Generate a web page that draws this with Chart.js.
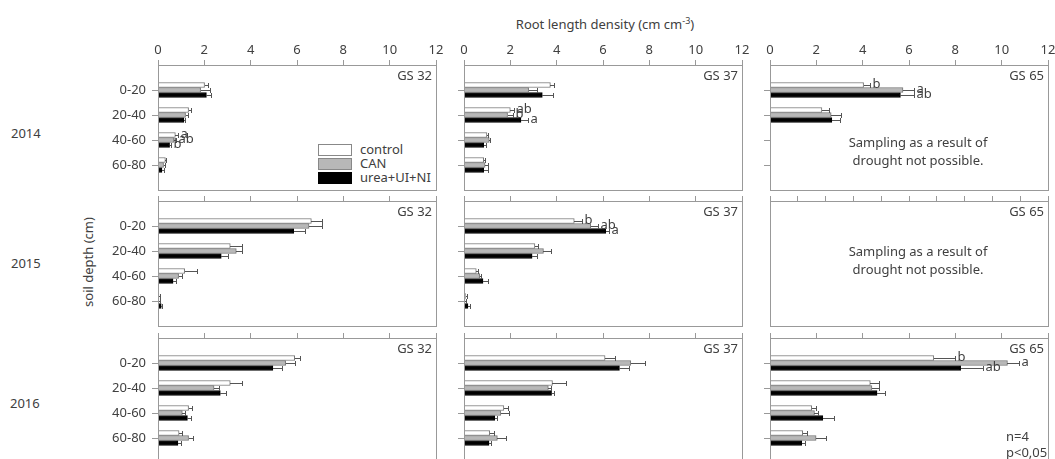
<!DOCTYPE html>
<html>
<head>
<meta charset="utf-8">
<script src="https://cdn.jsdelivr.net/npm/chart.js@4.4.1/dist/chart.umd.min.js"></script>
<style>
body { margin: 0; background: #fff; }
#page { position: relative; width: 1055px; height: 459px; overflow: hidden; font-family: 'Noto Sans', sans-serif; color: #404040; }
#page canvas { position: absolute; }
.lbl { position: absolute; font-size: 13px; white-space: nowrap; line-height: 18px; }
.box { position: absolute; width: 32px; height: 10px; border: 1px solid #888; }
sup { font-size: 9px; line-height: 0; }
</style>
</head>
<body>
<div id="page">
  <div class="lbl" style="left:605px; top:15px; transform:translateX(-50%)">Root length density (cm cm<sup>-3</sup>)</div>
  <div class="lbl" style="left:11px; top:124px">2014</div>
  <div class="lbl" style="left:11px; top:254px">2015</div>
  <div class="lbl" style="left:10px; top:394px">2016</div>
  <div class="lbl" style="left:88px; top:262px; transform:translate(-50%,-50%) rotate(-90deg)">soil depth (cm)</div>
  <div class="box" style="left:318px; top:144px; background:#fff"></div>
  <div class="box" style="left:318px; top:158px; background:#b8b8b8"></div>
  <div class="box" style="left:318px; top:172px; background:#000; border-color:#000"></div>
  <div class="lbl" id="leg0" style="left:360px; top:140px"></div>
  <div class="lbl" id="leg1" style="left:360px; top:154px"></div>
  <div class="lbl" id="leg2" style="left:360px; top:168px"></div>
</div>
<script>
const depths = ['0-20', '20-40', '40-60', '60-80']
const treatments = ['control', 'CAN', 'urea+UI+NI']

// rows: control, CAN, urea+UI+NI ; columns: depths
const mean2014gs32 = [[2.01, 1.32, 0.75, 0.32], [1.84, 1.19, 0.69, 0.24], [2.09, 1.12, 0.50, 0.17]]
const err2014gs32  = [[0.15, 0.12, 0.11, 0.04], [0.42, 0.10, 0.07, 0.08], [0.18, 0.06, 0.08, 0.07]]
const let2014gs32  = [['', '', 'a', ''], ['', '', 'ab', ''], ['', '', 'b', '']]

const mean2014gs37 = [[3.73, 2.00, 0.99, 0.85], [2.79, 1.88, 1.09, 0.91], [3.38, 2.46, 0.85, 0.85]]
const err2014gs37  = [[0.17, 0.17, 0.06, 0.07], [0.35, 0.22, 0.05, 0.11], [0.45, 0.29, 0.09, 0.17]]
const let2014gs37  = [['', 'ab', '', ''], ['', 'b', '', ''], ['', 'a', '', '']]

const mean2014gs65 = [[4.04, 2.24], [5.74, 2.64], [5.63, 2.67]]
const err2014gs65  = [[0.29, 0.31], [0.46, 0.42], [0.60, 0.33]]
const let2014gs65  = [['b', ''], ['a', ''], ['ab', '']]

const mean2015gs32 = [[6.62, 3.12, 1.15, 0.04], [6.52, 3.38, 0.89, 0.04], [5.86, 2.73, 0.65, 0.14]]
const err2015gs32  = [[0.47, 0.51, 0.55, 0.03], [0.57, 0.25, 0.15, 0.03], [0.47, 0.29, 0.11, 0.05]]

const mean2015gs37 = [[4.76, 3.06, 0.53, 0.07], [5.47, 3.43, 0.68, 0.04], [6.12, 2.94, 0.82, 0.17]]
const err2015gs37  = [[0.32, 0.14, 0.07, 0.06], [0.33, 0.32, 0.07, 0.03], [0.14, 0.19, 0.22, 0.08]]
const let2015gs37  = [['b', '', '', ''], ['ab', '', '', ''], ['a', '', '', '']]

const mean2016gs32 = [[5.90, 3.12, 1.32, 0.91], [5.51, 2.42, 1.05, 1.32], [4.96, 2.69, 1.27, 0.86]]
const err2016gs32  = [[0.22, 0.51, 0.15, 0.14], [0.39, 0.20, 0.13, 0.19], [0.41, 0.23, 0.17, 0.15]]

const mean2016gs37 = [[6.09, 3.82, 1.72, 1.11], [7.20, 3.64, 1.59, 1.44], [6.71, 3.78, 1.33, 1.08]]
const err2016gs37  = [[0.43, 0.58, 0.18, 0.19], [0.62, 0.11, 0.36, 0.36], [0.43, 0.12, 0.10, 0.10]]

const mean2016gs65 = [[7.07, 4.33, 1.80, 1.41], [10.25, 4.40, 1.92, 1.99], [8.23, 4.62, 2.28, 1.37]]
const err2016gs65  = [[0.90, 0.36, 0.18, 0.18], [0.50, 0.29, 0.17, 0.43], [0.98, 0.33, 0.49, 0.15]]
const let2016gs65  = [['b', '', '', ''], ['a', '', '', ''], ['ab', '', '', '']]

const noteText = ['Sampling as a result of', 'drought not possible.']
const statsText = ['n=4', 'p<0,05']

const fills = ['#ffffff', '#b8b8b8', '#000000']
const borders = ['#777777', '#777777', '#000000']
const frameColor = '#999999'
const textColor = '#404040'
const font13 = '13px "Noto Sans"'

treatments.forEach((t, i) => document.getElementById('leg' + i).textContent = t)

const colLeft = [158, 464, 770]
const rowTop = [65, 201, 338]
const panelW = 278, panelH = 125
// padB is big enough that chart.js does not shrink the area for the last y label
const axisW = 60, axisH = 30, padR = 12, padB = 18

const panels = [
  {row: 0, col: 0, gs: 'GS 32', mean: mean2014gs32, err: err2014gs32, letters: let2014gs32},
  {row: 0, col: 1, gs: 'GS 37', mean: mean2014gs37, err: err2014gs37, letters: let2014gs37},
  {row: 0, col: 2, gs: 'GS 65', mean: mean2014gs65, err: err2014gs65, letters: let2014gs65, note: noteText, noteY: 78},
  {row: 1, col: 0, gs: 'GS 32', mean: mean2015gs32, err: err2015gs32},
  {row: 1, col: 1, gs: 'GS 37', mean: mean2015gs37, err: err2015gs37, letters: let2015gs37},
  {row: 1, col: 2, gs: 'GS 65', note: noteText, noteY: 51, xStep: 1.2, noYTicks: true},
  {row: 2, col: 0, gs: 'GS 32', mean: mean2016gs32, err: err2016gs32},
  {row: 2, col: 1, gs: 'GS 37', mean: mean2016gs37, err: err2016gs37},
  {row: 2, col: 2, gs: 'GS 65', mean: mean2016gs65, err: err2016gs65, letters: let2016gs65, stats: statsText}
]

const errorBars = {
  id: 'errorBars',
  afterDatasetsDraw(chart) {
    const ctx = chart.ctx
    const xs = chart.scales.x
    ctx.save()
    chart.data.datasets.forEach((ds, di) => {
      const meta = chart.getDatasetMeta(di)
      meta.data.forEach((bar, i) => {
        const pt = ds.data[i]
        const x0 = Math.round(bar.x)
        const x1 = Math.round(xs.getPixelForValue(pt.x + pt.err)) + 0.5
        const y = Math.round(bar.y) + 0.5
        ctx.strokeStyle = '#555'
        ctx.lineWidth = 1
        ctx.beginPath()
        ctx.moveTo(x0, y)
        ctx.lineTo(x1, y)
        ctx.moveTo(x1, y - 2.5)
        ctx.lineTo(x1, y + 2.5)
        ctx.stroke()
        if (pt.letter) {
          ctx.fillStyle = textColor
          ctx.font = font13
          ctx.textAlign = 'left'
          ctx.textBaseline = 'middle'
          ctx.fillText(pt.letter, x1 + 2, y - 1)
        }
      })
    })
    ctx.restore()
  }
}

const panelText = {
  id: 'panelText',
  afterDraw(chart, args, opts) {
    const ctx = chart.ctx
    const a = chart.chartArea
    ctx.save()
    ctx.strokeStyle = frameColor
    ctx.lineWidth = 1
    ctx.strokeRect(Math.round(a.left) + 0.5, Math.round(a.top) + 0.5, Math.round(a.right - a.left), Math.round(a.bottom - a.top))
    ctx.fillStyle = textColor
    ctx.font = font13
    ctx.textBaseline = 'middle'
    ctx.textAlign = 'right'
    ctx.fillText(opts.gs, a.right - 4, a.top + 11)
    if (opts.note) {
      ctx.textAlign = 'center'
      opts.note.forEach((t, i) => ctx.fillText(t, a.left + 148, a.top + opts.noteY + i * 18))
    }
    if (opts.stats) {
      ctx.textAlign = 'left'
      opts.stats.forEach((t, i) => ctx.fillText(t, a.right - 42, a.top + 99 + i * 16))
    }
    ctx.restore()
  }
}

const page = document.getElementById('page')

for (let p of panels) {
  let canvas = document.createElement('canvas')
  let w = axisW + panelW + padR, h = axisH + panelH + padB
  canvas.width = w
  canvas.height = h
  canvas.style.left = (colLeft[p.col] - axisW) + 'px'
  canvas.style.top = (rowTop[p.row] - axisH) + 'px'
  canvas.style.width = w + 'px'
  canvas.style.height = h + 'px'
  page.appendChild(canvas)

  let datasets = []
  if (p.mean) {
    datasets = treatments.map((t, ti) => ({
      label: t,
      data: p.mean[ti].map((v, di) => ({
        x: v, y: di + 1, err: p.err[ti][di],
        letter: p.letters ? p.letters[ti][di] : ''
      })),
      backgroundColor: fills[ti],
      borderColor: borders[ti],
      borderWidth: 1,
      barThickness: 5
    }))
  }

  new Chart(canvas.getContext('2d'), {
    type: 'bar',
    data: { datasets },
    options: {
      indexAxis: 'y',
      responsive: false,
      animation: false,
      events: [],
      layout: { padding: { left: 0, top: 0, right: padR, bottom: padB } },
      plugins: {
        legend: { display: false },
        tooltip: { enabled: false },
        panelText: { gs: p.gs, note: p.note, noteY: p.noteY, stats: p.stats }
      },
      scales: {
        x: {
          type: 'linear',
          position: 'top',
          min: 0,
          max: 12,
          offset: false,
          ticks: {
            stepSize: p.xStep || 2,
            display: p.row === 0,
            color: textColor,
            font: { family: 'Noto Sans', size: 13 },
            padding: 2
          },
          grid: { drawOnChartArea: false, tickLength: 5, color: frameColor, offset: false },
          border: { color: frameColor },
          afterFit: s => { s.height = axisH }
        },
        y: {
          type: 'linear',
          min: 0,
          max: 5,
          reverse: true,
          offset: false,
          afterBuildTicks: s => {
            s.ticks = p.noYTicks ? [] : depths.map((d, i) => ({ value: i + 1 }))
          },
          ticks: {
            display: p.col === 0,
            callback: v => depths[v - 1],
            color: textColor,
            font: { family: 'Noto Sans', size: 13 },
            padding: 6
          },
          grid: { drawOnChartArea: false, tickLength: 6, color: frameColor, offset: false, drawTicks: !p.noYTicks },
          border: { color: frameColor },
          afterFit: s => { s.width = axisW }
        }
      }
    },
    plugins: [errorBars, panelText]
  })
}
</script>
</body>
</html>
